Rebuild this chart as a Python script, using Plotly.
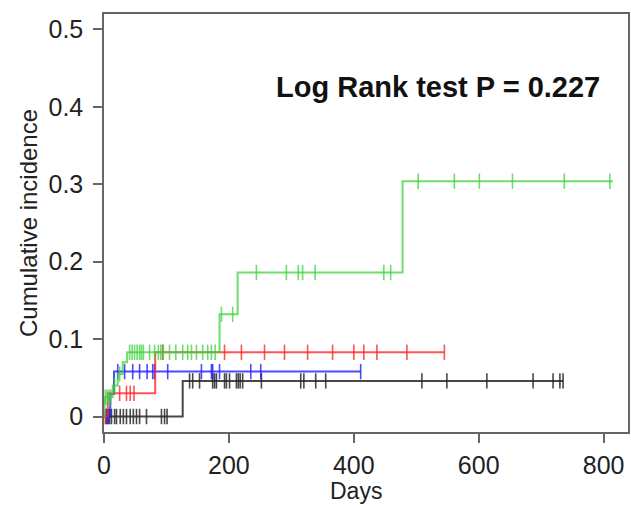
import plotly.graph_objects as go
import numpy as np

# ---- data ----
x_ticks = [0, 200, 400, 600, 800]
y_ticks = [0, 0.1, 0.2, 0.3, 0.4, 0.5]
y_tick_labels = ["0", "0.1", "0.2", "0.3", "0.4", "0.5"]

black_step_days = [0, 126]
black_step_vals = [0, 0.046]
black_end = 735
black_censor = [3, 6, 9, 12, 17, 20, 26, 31, 36, 42, 47, 52, 57, 68, 92, 97, 101,
                137, 142, 153, 174, 177, 180, 193, 196, 201, 212, 215, 218, 222, 252,
                315, 320, 339, 355, 509, 549, 613, 687, 719, 730, 735]

blue_step_days = [0, 10, 16]
blue_step_vals = [0, 0.029, 0.058]
blue_end = 411
blue_censor = [4, 7, 22, 33, 46, 57, 69, 78, 81, 102, 156, 172, 174, 185, 235, 251, 411]

red_step_days = [0, 6, 82]
red_step_vals = [0, 0.03, 0.083]
red_end = 545
red_censor = [2, 25, 36, 42, 48, 94, 193, 220, 257, 289, 326, 366, 400, 416, 437, 485, 545]

green_step_days = [0, 1, 14, 22, 30, 37, 185, 214, 478]
green_step_vals = [0, 0.025, 0.04, 0.055, 0.07, 0.083, 0.132, 0.186, 0.304]
green_end = 815
green_censor = [2, 5, 8, 11, 17, 25, 41, 45, 49, 53, 57, 60, 63, 73, 81, 87, 91, 95, 105,
                115, 126, 134, 140, 148, 158, 166, 172, 178, 188, 206, 244, 292, 311, 318,
                338, 448, 459, 503, 561, 601, 654, 737, 810]

test_text = "Log Rank test P = 0.227"
x_title = "Days"
y_title = "Cumulative incidence"

groups = [
    ("black", black_step_days, black_step_vals, black_end, black_censor, "rgba(40,40,40,0.85)"),
    ("blue", blue_step_days, blue_step_vals, blue_end, blue_censor, "rgba(30,30,255,0.8)"),
    ("red", red_step_days, red_step_vals, red_end, red_censor, "rgba(255,40,40,0.8)"),
    ("green", green_step_days, green_step_vals, green_end, green_censor, "rgba(60,210,60,0.75)"),
]

FONT = "Liberation Sans, Arial, sans-serif"

fig = go.Figure()
for name, sd, sv, end, cens, col in groups:
    xs = list(sd) + [end]
    ys = list(sv) + [sv[-1]]
    fig.add_trace(go.Scatter(x=xs, y=ys, mode="lines", line=dict(color=col, width=2, shape="hv"),
                             showlegend=False, hoverinfo="skip"))
    sd_arr = np.array(sd)
    cy = [sv[int(np.searchsorted(sd_arr, c, side="right") - 1)] for c in cens]
    fig.add_trace(go.Scatter(x=cens, y=cy, mode="markers",
                             marker=dict(symbol="line-ns", size=11, line=dict(color=col, width=1.6)),
                             showlegend=False, hoverinfo="skip"))

fig.add_annotation(x=535, y=0.426, xref="x", yref="y", text="<b>" + test_text + "</b>",
                   showarrow=False, font=dict(family=FONT, size=29, color="#111111"))

plot_h = 505 - 14 - 73
fig.add_annotation(x=0.481, y=(505 - 73 - 491) / plot_h, xref="paper", yref="paper", text=x_title,
                   showarrow=False, yanchor="middle", xanchor="center",
                   font=dict(family=FONT, size=23, color="#222222"))

axis_common = dict(showline=True, mirror=True, linecolor="#666666", linewidth=1.5,
                   ticks="outside", ticklen=9, tickwidth=1.5, tickcolor="#666666",
                   showgrid=False, zeroline=False,
                   tickfont=dict(family=FONT, size=25, color="#222222"))

fig.update_layout(
    width=631, height=505,
    margin=dict(l=104, r=1, t=14, b=73),
    paper_bgcolor="white", plot_bgcolor="white",
    xaxis=dict(range=[0, 839], tickvals=x_ticks, ticklabelstandoff=1, **axis_common),
    yaxis=dict(range=[-0.02, 0.52], tickvals=y_ticks, ticktext=y_tick_labels,
               title=dict(text=y_title, font=dict(family=FONT, size=24, color="#222222"), standoff=4),
               ticklabelstandoff=5, **axis_common),
)

fig.write_html("out.html")
